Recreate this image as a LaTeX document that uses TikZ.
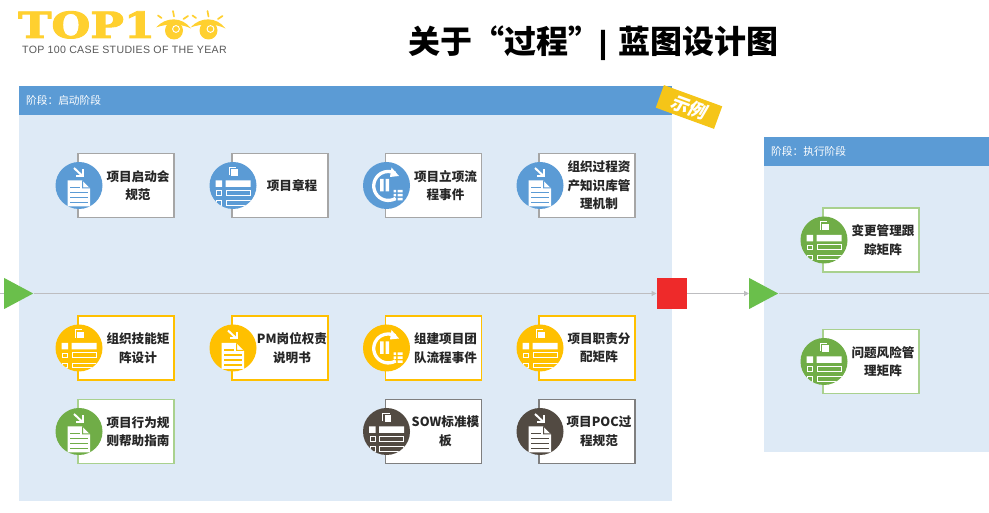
\documentclass[tikz,border=0pt]{standalone}
\usepackage{fontspec}
\setmainfont{Noto Sans CJK SC}
\newfontfamily\logofont[FakeBold=2.5]{DejaVu Serif Bold}
\newfontfamily\tagfont[LetterSpace=3]{Liberation Sans}
\newfontfamily\barfont{Liberation Sans}
\newfontfamily\badgefont[FakeSlant=0.18]{Noto Sans CJK SC}
\usetikzlibrary{arrows.meta,positioning,calc,shapes.geometric}
\definecolor{Band}{HTML}{5B9BD5}
\definecolor{Pane}{HTML}{DEEAF6}
\definecolor{Amber}{HTML}{FFC000}
\definecolor{Leaf}{HTML}{70AD47}
\definecolor{LeafEdge}{HTML}{A9D18E}
\definecolor{Umber}{HTML}{524A42}
\definecolor{Steel}{HTML}{A6A6A6}
\definecolor{Slate}{HTML}{7F7F7F}
\definecolor{Flow}{HTML}{BDBDC0}
\definecolor{Stop}{HTML}{EE2A2A}
\definecolor{Go}{HTML}{6ABF4B}
\definecolor{LogoGold}{HTML}{FFD02F}
\definecolor{Tab}{HTML}{F5C518}
\definecolor{Ink}{HTML}{262626}
\tikzset{pane/.style={fill=Pane,draw=none,minimum width=#1,inner sep=0pt},band/.style={fill=Band,draw=none,minimum width=#1,minimum height=29.5,inner sep=0pt},bandtext/.style={anchor=west,text=white,inner sep=0pt,font=\fontsize{10.7}{12}\selectfont},card/.style={rectangle,draw=#1,fill=white,minimum width=96,minimum height=64,inner sep=0pt},disc/.style={circle,fill=#1,minimum size=47,inner sep=0pt},cardtext/.style={align=center,text=Ink,inner sep=0pt,font=\fontsize{12.6}{18.5}\selectfont\bfseries},start/.style={isosceles triangle,isosceles triangle stretches,fill=Go,minimum width=31,minimum height=29,inner sep=0pt,anchor=lower side},gate/.style={rectangle,fill=Stop,minimum size=30.5,inner sep=0pt},flow/.style={draw=Flow,line width=1.1pt,-{Triangle[length=5pt,width=5pt]}},
docicon/.pic={\fill[white] (-11.5,-21)--(11,-21)--(11,-3)--(3,5)--(-11.5,5)--cycle;\fill[#1] (3,5)--(3,-3)--(11,-3)--(10,-2)--(4,-2)--(4,4)--cycle;\draw[#1,line width=1.1pt] (-9,-7)--(8.5,-7) (-9,-12)--(8.5,-12) (-9,-17)--(8.5,-17) (-9,-2)--(1,-2);\draw[white,line width=2pt] (-5,17.5)--(3.5,9.5);\draw[white,line width=2pt] (3.5,16)--(3.5,9.5)--(-3,9.5);},
formicon/.pic={\begin{scope}\clip (0,0) circle (23.5);\draw[white,line width=1pt] (-4,10)--(-4,18)--(3,18);\fill[white] (-2,9.5) rectangle (4.5,16);\fill[white] (-17.5,5) rectangle (-11,-1.5) (-7.5,5) rectangle (17.5,-1.5);\draw[white,line width=1pt] (-16.5,-5.5) rectangle (-11.5,-10) (-7,-5) rectangle (17,-10);\draw[white,line width=1pt] (-7,-20) rectangle (17,-15.5) (-16.5,-20) rectangle (-11.5,-15.5);\end{scope}},
loopicon/.pic={\draw[white,line width=3.3pt] (9,-13) arc[start angle=-60,end angle=-300,radius=14.5];\fill[white] (5,18)--(12.5,9.5)--(3.5,8.5)--cycle;\fill[white] (-6.5,-6) rectangle (-3,6.5) (-1,-6) rectangle (2.5,6.5);\fill[white] (7,-4.5) rectangle (9.5,-7) (11,-4.5) rectangle (16,-7) (7,-8.5) rectangle (9.5,-11) (11,-8.5) rectangle (16,-11) (7,-12.5) rectangle (9.5,-15) (11,-12.5) rectangle (16,-15);},
eyemark/.pic={\fill[LogoGold] (0,-0.5) circle (9);\fill[white] (-18,3) .. controls (-8,9) and (8,9) .. (17,2)--(17,12)--(-18,12)--cycle;\fill[LogoGold] (-18,2.5) .. controls (-8,13.5) and (8,13.5) .. (17,1.5) .. controls (8,6.5) and (-8,6.5) .. (-18,2.5)--cycle;\draw[white,line width=0.9pt] (2,1) circle (3.4);\draw[LogoGold,line width=1.7pt,line cap=round] (-16,14.5)--(-12.5,12) (-1,19)--(0,13.5) (14,14)--(9.5,11);}}
\begin{document}
\begin{tikzpicture}[x=1pt,y=1pt]
\useasboundingbox (0,0) rectangle (989,513);
\fill[white] (0,0) rectangle (989,513);
\node[anchor=base west,text=LogoGold,inner sep=0pt,xscale=1.24,font=\logofont\fontsize{36}{36}\selectfont] (LogoWord) at (18,475) {TOP1};
\pic at (174,483) {eyemark};\pic at (208.5,483) {eyemark};
\node[anchor=west,text=black!65,inner sep=0pt,font=\tagfont\fontsize{10.6}{12}\selectfont] (LogoTag) at (22,463) {TOP 100 CASE STUDIES OF THE YEAR};
\node[anchor=west,inner sep=0pt,text=black,font=\fontsize{32}{36}\selectfont\bfseries] (PageTitle) at (408,470) {关于“过程”{\barfont\kern-1.7pt|\,\,}蓝图设计图};
% panes
\node[pane=653,minimum height=415,anchor=south west] (KickPane) at (19,12) {};\node[band=653,anchor=north west] (KickBand) at (KickPane.north west) {};\node[bandtext] (KickName) at (26,412.5) {阶段：启动阶段};
\node[pane=225,minimum height=315,anchor=south west] (ExecPane) at (764,61) {};\node[band=225,anchor=north west] (ExecBand) at (ExecPane.north west) {};\node[bandtext] (ExecName) at (771,361.5) {阶段：执行阶段};
\node[rectangle,fill=Tab,minimum width=62,minimum height=24,inner sep=0pt,rotate=-20,text=white,font=\badgefont\fontsize{18}{20}\selectfont\bfseries] (SampleTab) at (689,406) {示例};
% flow
\node[start] (StartA) at (4,219.5) {};\node[gate] (EndA) at (672,219.5) {};\node[start] (StartB) at (749,219.5) {};
\coordinate (FlowIn) at (0,219.5);\coordinate (FlowOut) at (989,219.5);
\draw[draw=Flow,line width=1.1pt] (FlowIn)--(StartA.lower side);\draw[flow] (StartA.apex)--(EndA.west);\draw[flow] (EndA.east)--(StartB.lower side);\draw[draw=Flow,line width=1.1pt] (StartB.apex)--(FlowOut);
% first row
\node[card=Steel,line width=1.7pt] (Kick) at (126,327.5) {};\node[disc=Band] (KickDisc) at (79,327.5) {};\pic at (KickDisc) {docicon=Band};\node[cardtext] (KickText) at (138,327.5) {项目启动会\\规范};
\node[card=Steel,line width=1.7pt] (Charter) at (280,327.5) {};\node[disc=Band] (CharterDisc) at (233,327.5) {};\pic at (CharterDisc) {formicon};\node[cardtext] (CharterText) at (292,327.5) {项目章程};
\node[card=Steel,line width=1.7pt] (Approve) at (433.5,327.5) {};\node[disc=Band] (ApproveDisc) at (386.5,327.5) {};\pic at (ApproveDisc) {loopicon};\node[cardtext] (ApproveText) at (445.5,327.5) {项目立项流\\程事件};
\node[card=Steel,line width=1.7pt] (Assets) at (587,327.5) {};\node[disc=Band] (AssetsDisc) at (540,327.5) {};\pic at (AssetsDisc) {docicon=Band};\node[cardtext] (AssetsText) at (599,327.5) {组织过程资\\产知识库管\\理机制};
% second row
\node[card=Amber,line width=1.7pt] (Skills) at (126,165) {};\node[disc=Amber] (SkillsDisc) at (79,165) {};\pic at (SkillsDisc) {formicon};\node[cardtext] (SkillsText) at (138,165) {组织技能矩\\阵设计};
\node[card=Amber,line width=1.7pt] (Roles) at (280,165) {};\node[disc=Amber] (RolesDisc) at (233,165) {};\pic at (RolesDisc) {docicon=Amber};\node[cardtext] (RolesText) at (292,165) {PM岗位权责\\说明书};
\node[card=Amber,line width=1.7pt] (Team) at (433.5,165) {};\node[disc=Amber] (TeamDisc) at (386.5,165) {};\pic at (TeamDisc) {loopicon};\node[cardtext] (TeamText) at (445.5,165) {组建项目团\\队流程事件};
\node[card=Amber,line width=1.7pt] (Duties) at (587,165) {};\node[disc=Amber] (DutiesDisc) at (540,165) {};\pic at (DutiesDisc) {formicon};\node[cardtext] (DutiesText) at (599,165) {项目职责分\\配矩阵};
% third row
\node[card=LeafEdge,line width=1.2pt] (Conduct) at (126,81.5) {};\node[disc=Leaf] (ConductDisc) at (79,81.5) {};\pic at (ConductDisc) {docicon=Leaf};\node[cardtext] (ConductText) at (138,81.5) {项目行为规\\则帮助指南};
\node[card=Slate,line width=1.1pt] (Sow) at (433.5,81.5) {};\node[disc=Umber] (SowDisc) at (386.5,81.5) {};\pic at (SowDisc) {formicon};\node[cardtext] (SowText) at (445.5,81.5) {SOW标准模\\板};
\node[card=Slate,line width=1.1pt] (Poc) at (587,81.5) {};\node[disc=Umber] (PocDisc) at (540,81.5) {};\pic at (PocDisc) {docicon=Umber};\node[cardtext] (PocText) at (599,81.5) {项目POC过\\程规范};
% execution pane
\node[card=LeafEdge,line width=1.2pt] (Change) at (871,273) {};\node[disc=Leaf] (ChangeDisc) at (824,273) {};\pic at (ChangeDisc) {formicon};\node[cardtext] (ChangeText) at (883,273) {变更管理跟\\踪矩阵};
\node[card=LeafEdge,line width=1.2pt] (Risk) at (871,151.5) {};\node[disc=Leaf] (RiskDisc) at (824,151.5) {};\pic at (RiskDisc) {formicon};\node[cardtext] (RiskText) at (883,151.5) {问题风险管\\理矩阵};
\end{tikzpicture}
\end{document}
